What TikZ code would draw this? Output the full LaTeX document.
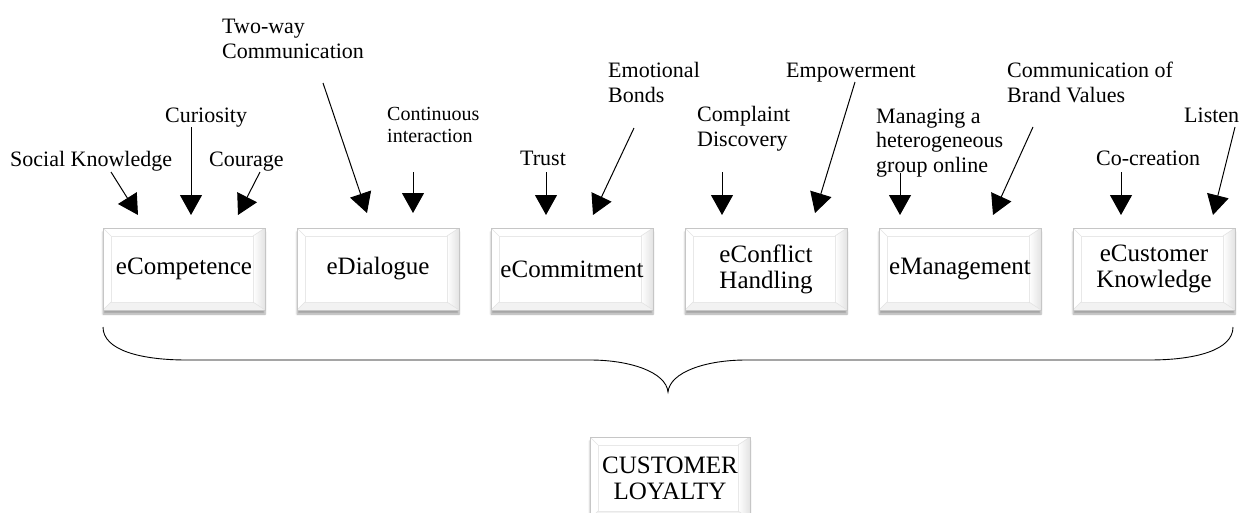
\documentclass[tikz,border=0pt]{standalone}
\usepackage{fontspec}
\setmainfont{Liberation Serif}
\usetikzlibrary{arrows.meta,shadows.blur,calc}

\newcommand{\lblfont}{\fontsize{22}{24.5}\selectfont}
\newcommand{\smallfont}{\fontsize{20}{21.5}\selectfont}
\newcommand{\boxfont}{\fontsize{25}{26}\selectfont}

\tikzset{
  % multi-line labels are placed by the baseline of their last line
  lbl/.style={anchor=base west, inner sep=0pt, align=left, font=\lblfont},
  lblsmall/.style={anchor=base west, inner sep=0pt, align=left, font=\smallfont},
  feed/.style={line width=1pt, -{Triangle[width=22pt,length=20pt]}},
  bevelbox/.style={
    draw=gray!45, line width=1pt, fill=white,
    minimum width=162pt, minimum height=82pt, inner sep=0pt,
    align=center, font=\boxfont,
    blur shadow={shadow xshift=0pt, shadow yshift=-4pt, shadow opacity=35, shadow blur steps=6},
    path picture={
      \coordinate (bsw) at (path picture bounding box.south west);
      \coordinate (bne) at (path picture bounding box.north east);
      \coordinate (bnw) at (path picture bounding box.north west);
      \coordinate (bse) at (path picture bounding box.south east);
      % right bevel band, softly shaded
      \shade[left color=white, right color=gray!22]
        ($(bne)+(-12pt,-8pt)$) -- ($(bse)+(-12pt,8pt)$) -- (bse) -- (bne) -- cycle;
      % bottom bevel band
      \fill[gray!10] (bsw) -- ($(bsw)+(8pt,8pt)$) -- ($(bse)+(-12pt,8pt)$) -- (bse) -- cycle;
      % inner face outline and corner mitres
      \draw[gray!18, line width=0.6pt]
        ($(bsw)+(8pt,8pt)$) rectangle ($(bne)+(-12pt,-8pt)$);
      \draw[gray!22, line width=0.6pt]
        (bsw) -- ($(bsw)+(8pt,8pt)$)
        (bnw) -- ($(bnw)+(8pt,-8pt)$)
        (bne) -- ($(bne)+(-12pt,-8pt)$)
        (bse) -- ($(bse)+(-12pt,8pt)$);
    }
  }
}

\begin{document}
\begin{tikzpicture}[x=1pt, y=-1pt]
  \useasboundingbox (0,0) rectangle (1244,512);

  % dimension boxes
  \node[bevelbox] (comp) at (184,269) {eCompetence};
  \node[bevelbox] (dial) at (378,269) {eDialogue};
  \node[bevelbox] (comm) at (572,269) {eCommitment};
  \node[bevelbox] (conf) at (766,269) {eConflict\\Handling};
  \node[bevelbox] (mgmt) at (960,269) {eManagement};
  \node[bevelbox] (cust) at (1154,269) {eCustomer\\Knowledge};

  % outcome box
  \node[bevelbox, minimum width=160pt] (loyal) at (670,478) {CUSTOMER\\LOYALTY};

  % driver labels
  \node[lbl] (social) at (10,166) {Social Knowledge};
  \node[lbl] (curio) at (165,122) {Curiosity};
  \node[lbl] (courage) at (209,166) {Courage};
  \node[lbl] (twoway) at (222,58) {Two-way\\Communication};
  \node[lblsmall] (contin) at (387,142) {Continuous\\interaction};
  \node[lbl] (trust) at (520,165) {Trust};
  \node[lbl] (emo) at (608,102) {Emotional\\Bonds};
  \node[lbl] (complaint) at (697,146) {Complaint\\Discovery};
  \node[lbl] (empower) at (786,77) {Empowerment};
  \node[lbl] (managing) at (876,172) {Managing a\\heterogeneous\\group online};
  \node[lbl] (brand) at (1007,102) {Communication of\\Brand Values};
  \node[lbl] (cocre) at (1096,165) {Co-creation};
  \node[lbl] (listen) at (1184,122) {Listen};

  % arrow end points
  \coordinate (s1) at (111,172);  \coordinate (t1) at (138,215);
  \coordinate (s2) at (191,127);  \coordinate (t2) at (191,215);
  \coordinate (s3) at (260,172);  \coordinate (t3) at (238,215);
  \coordinate (s4) at (323,83);   \coordinate (t4) at (367,213);
  \coordinate (s5) at (413,172);  \coordinate (t5) at (413,213);
  \coordinate (s6) at (546,172);  \coordinate (t6) at (546,215);
  \coordinate (s7) at (634,128);  \coordinate (t7) at (593,215);
  \coordinate (s8) at (722,172);  \coordinate (t8) at (722,215);
  \coordinate (s9) at (855,82);   \coordinate (t9) at (815,213);
  \coordinate (s10) at (900,173); \coordinate (t10) at (900,215);
  \coordinate (s11) at (1033,127);\coordinate (t11) at (993,215);
  \coordinate (s12) at (1121,172);\coordinate (t12) at (1121,215);
  \coordinate (s13) at (1235,127);\coordinate (t13) at (1213,215);

  \foreach \i in {1,...,13} {
    \draw[feed] (s\i) -- (t\i);
  }

  % brace gathering all six dimensions
  \coordinate (bl) at (103,327);
  \coordinate (br) at (1233,327);
  \coordinate (btip) at (668,392);
  \draw[line width=0.9pt]
    (bl) .. controls (103,350) and (140,360) .. (187,360)
    -- (590,360) .. controls (630,360) and (666,372) .. (btip)
    .. controls (670,372) and (706,360) .. (746,360)
    -- (1149,360) .. controls (1196,360) and (1233,350) .. (br);
\end{tikzpicture}
\end{document}
